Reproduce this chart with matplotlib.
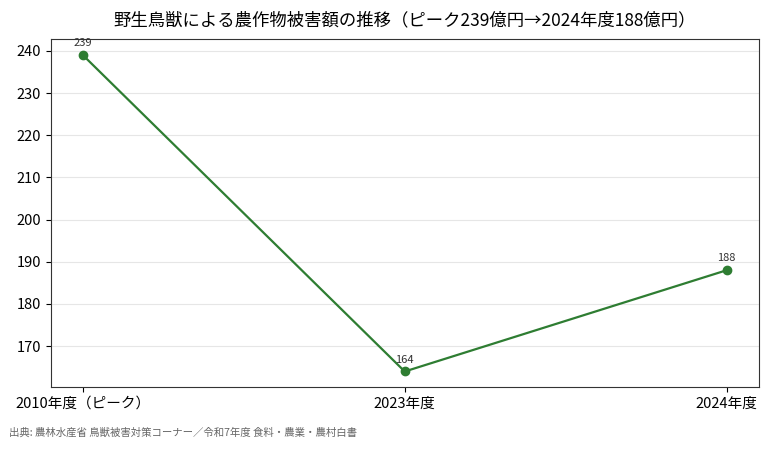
import matplotlib
matplotlib.use('Agg')
import matplotlib.pyplot as plt

plt.rcParams['font.family'] = ['Noto Sans CJK JP', 'DejaVu Sans']

categories = ['2010年度（ピーク）', '2023年度', '2024年度']
values = [239, 164, 188]
title = '野生鳥獣による農作物被害額の推移（ピーク239億円→2024年度188億円）'
source = '出典: 農林水産省 鳥獣被害対策コーナー／令和7年度 食料・農業・農村白書'

fig, ax = plt.subplots(figsize=(7.68, 4.49), dpi=100)
fig.subplots_adjust(left=0.066, right=0.988, top=0.9125, bottom=0.1374)

x = list(range(len(categories)))
ax.plot(x, values, color='#2e7d32', linewidth=1.6, marker='o', markersize=6)
for xi, v in zip(x, values):
    ax.annotate(str(v), (xi, v), xytext=(0, 5), textcoords='offset points',
                ha='center', va='bottom', fontsize=8, color='#333333')

ax.set_xticks(x)
ax.set_xticklabels(categories, fontsize=10.5)
ax.tick_params(axis='y', labelsize=10.5)
ax.set_yticks([170, 180, 190, 200, 210, 220, 230, 240])
ax.grid(axis='y', color='#e6e6e6', linewidth=0.8)
ax.set_axisbelow(True)
for s in ax.spines.values():
    s.set_color('#333333')

ax.set_title(title, fontsize=12.5, pad=10)
fig.text(0.012, 0.025, source, fontsize=7.5, color='#666666', ha='left', va='bottom')

fig.savefig('out.png', dpi=100)
